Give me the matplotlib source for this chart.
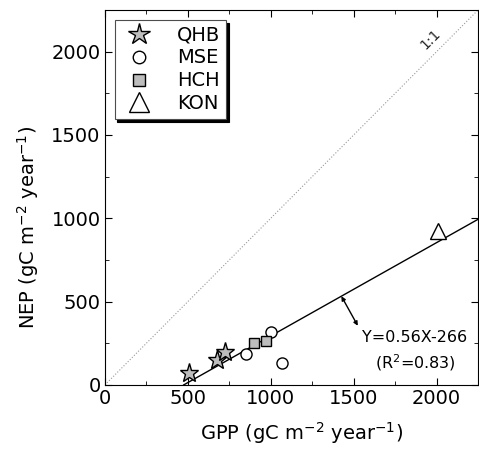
import matplotlib
matplotlib.use('Agg')
import matplotlib.pyplot as plt
import numpy as np
from matplotlib.lines import Line2D
from matplotlib.ticker import MultipleLocator

plt.rcParams['font.family'] = 'DejaVu Sans'
plt.rcParams['mathtext.default'] = 'regular'

# Site data (GPP, NEP) in gC m-2 year-1
qhb_gpp = [510, 676, 726]
qhb_nep = [74, 150, 200]
mse_gpp = [850, 1000, 1066]
mse_nep = [184, 320, 130]
hch_gpp = [900, 974]
hch_nep = [250, 264]
kon_gpp = [2006]
kon_nep = [924]

# Regression Y = 0.56X - 266
slope, intercept, r2 = 0.56, -266, 0.83

fig = plt.figure(figsize=(4.79, 4.55), dpi=100)
ax = fig.add_axes([0.219, 0.154, 0.779, 0.824])

lim = 2250
ax.plot([0, lim], [0, lim], ':', color='0.6', lw=0.8, zorder=1)
ax.text(1965, 2075, '1:1', rotation=45, fontsize=10, ha='center', va='center', color='0.15')

x_fit = np.array([-intercept / slope, lim])
ax.plot(x_fit, slope * x_fit + intercept, '-', color='black', lw=1, zorder=2)

gray = '#bdbdbd'
ax.plot(qhb_gpp, qhb_nep, '*', ms=14, mfc=gray, mec='black', mew=1, zorder=3)
ax.plot(mse_gpp, mse_nep, 'o', ms=8, mfc='white', mec='black', mew=1, zorder=3)
ax.plot(hch_gpp, hch_nep, 's', ms=7, mfc=gray, mec='black', mew=1, zorder=3)
ax.plot(kon_gpp, kon_nep, '^', ms=11, mfc='white', mec='black', mew=1, zorder=3)

ax.annotate('', xy=(1426, slope * 1426 + intercept), xytext=(1525, 355),
            arrowprops=dict(arrowstyle='<|-|>', color='black', lw=1,
                            mutation_scale=6, shrinkA=0, shrinkB=0))
ax.text(1870, 282, f'Y={slope}X{intercept}', fontsize=11.5, ha='center', va='center')
ax.text(1870, 132, f'(R$^2$={r2})', fontsize=11.5, ha='center', va='center')

ax.set_xlim(0, lim)
ax.set_ylim(0, lim)
ax.xaxis.set_major_locator(MultipleLocator(500))
ax.yaxis.set_major_locator(MultipleLocator(500))
ax.xaxis.set_minor_locator(MultipleLocator(250))
ax.yaxis.set_minor_locator(MultipleLocator(250))
ax.tick_params(which='both', direction='in', top=True, right=True, labelsize=14, pad=3)
ax.tick_params(which='major', length=5)
ax.tick_params(which='minor', length=3)

ax.set_xlabel('GPP (gC m$^{-2}$ year$^{-1}$)', fontsize=14)
ax.set_ylabel('NEP (gC m$^{-2}$ year$^{-1}$)', fontsize=14)
ax.xaxis.set_label_coords(0.528, -0.095)
ax.yaxis.set_label_coords(-0.17, 0.42)

# legend markers are drawn larger than the data markers
handles = [
    Line2D([], [], ls='none', marker='*', ms=16, mfc=gray, mec='black', mew=1),
    Line2D([], [], ls='none', marker='o', ms=9, mfc='white', mec='black', mew=1),
    Line2D([], [], ls='none', marker='s', ms=9, mfc=gray, mec='black', mew=1),
    Line2D([], [], ls='none', marker='^', ms=14, mfc='white', mec='black', mew=1),
]
leg = ax.legend(handles, ['QHB', 'MSE', 'HCH', 'KON'], loc='upper left',
                fontsize=14, frameon=True, fancybox=False,
                shadow={'color': 'black', 'alpha': 1}, edgecolor='0.3',
                handletextpad=1.0, labelspacing=0.2, borderaxespad=0.5,
                handlelength=1.9, borderpad=0.3)
leg.get_frame().set_linewidth(0.8)

fig.savefig('out.png', dpi=100)
